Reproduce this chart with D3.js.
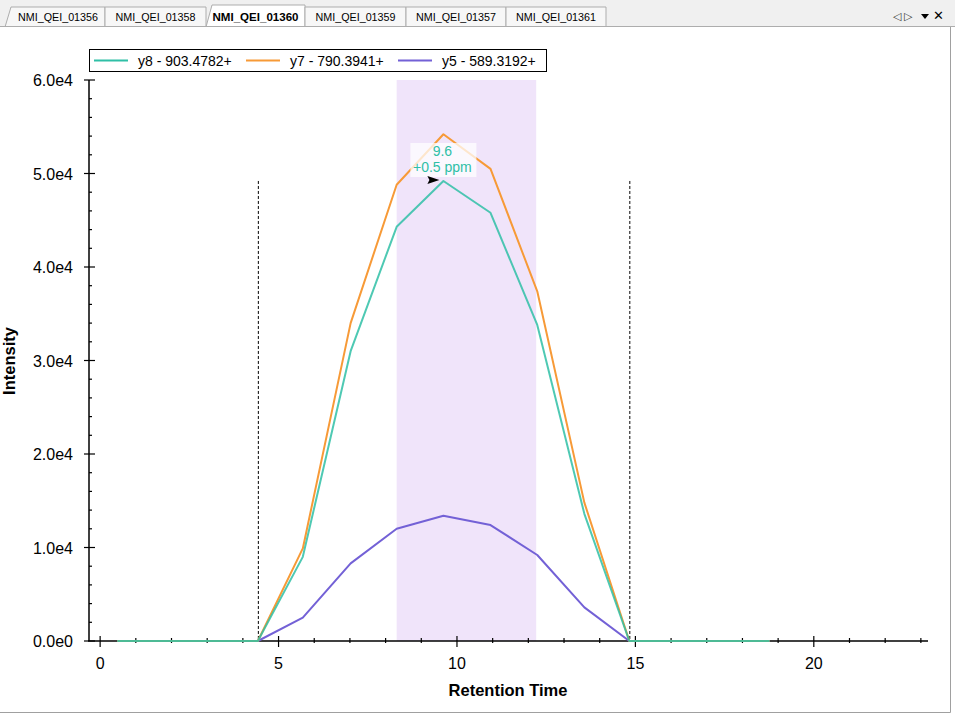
<!DOCTYPE html>
<html><head><meta charset="utf-8">
<script src="https://cdn.jsdelivr.net/npm/d3@7"></script>
<style>body{margin:0;background:#fff;}svg{display:block;font-family:"Liberation Sans",Arial,sans-serif;}</style>
</head><body><svg id="c" width="955" height="715"></svg>
<script>
const tabs = ["NMI_QEI_01356","NMI_QEI_01358","NMI_QEI_01360","NMI_QEI_01359","NMI_QEI_01357","NMI_QEI_01361"];
const activeTab = "NMI_QEI_01360";
const times = [0.48,1.79,3.10,4.42,5.68,7.02,8.31,9.62,10.94,12.25,13.57,14.83,16.14,17.45,18.76];
const seriesNames = ["y8 - 903.4782+","y7 - 790.3941+","y5 - 589.3192+"];
const seriesColors = ["#2fbfa6","#f79a37","#7361d6"];
const y8 = [0,0,0,0,9000,31000,44300,49200,45800,33800,13600,0,0,0,0];
const y7 = [0,0,0,0,9900,34000,48800,54200,50500,37400,14800,0,0,0,0];
const y5 = [0,0,0,0,2500,8300,12000,13400,12400,9200,3600,0,0,0,0];
const xTicks = [0,5,10,15,20];
const yTicks = [0,10000,20000,30000,40000,50000,60000];
const peakRange = [8.31,12.22];
const integrationBounds = [4.42,14.83];
const boundTop = 49200;
const annotation = {x:9.62, y:49200, lines:["9.6","+0.5 ppm"]};

const svg = d3.select("#c");
// Tab strip
svg.append("rect").attr("x",0).attr("y",0).attr("width",955).attr("height",27).attr("fill","#f0f0f0");
const tabW = [100,101,99,101,100,100];
let tx = 5;
tabs.forEach((t,i)=>{
  const w = tabW[i];
  const active = t===activeTab;
  const g = svg.append("g");
  g.append("path").attr("d",`M${tx},27 L${tx+ (i===0||active?6:0)},${active?5:7} L${tx+w},${active?5:7} L${tx+w},27`)
    .attr("fill",active?"#ffffff":"#f7f7f7").attr("stroke","#adadad").attr("stroke-width",1);
  g.append("text").attr("x",tx+w/2+(i===0?3:0)).attr("y",21).attr("text-anchor","middle")
    .attr("font-size",11.5).attr("font-weight",active?"bold":"normal").attr("fill","#000")
    .attr("font-family","'Liberation Sans Narrow','Liberation Sans',Arial,sans-serif")
    .attr("textLength",active?86:80).attr("lengthAdjust","spacingAndGlyphs").text(t);
  tx += w;
});
svg.append("line").attr("x1",0).attr("x2",955).attr("y1",26.5).attr("y2",26.5).attr("stroke","#adadad");
svg.append("text").attr("x",893).attr("y",20).attr("font-size",11).attr("fill","#333").text("◁ ▷");
svg.append("path").attr("d","M921,14 L929,14 L925,19 Z").attr("fill","#000");
svg.append("text").attr("x",933).attr("y",20).attr("font-size",13).attr("fill","#000").text("✕");
// panel border
svg.append("path").attr("d","M950.5,27 L950.5,712.5 L0,712.5").attr("fill","none").attr("stroke","#a0a0a0");

// scales
const x = d3.scaleLinear().domain([-0.34,23.2]).range([88,928]);
const y = d3.scaleLinear().domain([0,60000]).range([641,80]);

// shaded peak region
svg.append("rect").attr("x",x(peakRange[0])).attr("y",y(60000)).attr("width",x(peakRange[1])-x(peakRange[0]))
  .attr("height",y(0)-y(60000)).attr("fill","#f0e4fa");

// integration boundaries
integrationBounds.forEach(b=>{
  svg.append("line").attr("x1",x(b)+0.5).attr("x2",x(b)+0.5).attr("y1",y(boundTop)).attr("y2",y(0))
    .attr("stroke","#000").attr("stroke-width",1).attr("stroke-dasharray","3,2");
});

// axes
const xAxisG = svg.append("g").attr("transform",`translate(0,${y(0)})`);
xAxisG.append("line").attr("x1",88).attr("x2",928).attr("stroke","#000").attr("stroke-width",1.5);
d3.range(0,24).forEach(v=>{
  const major = xTicks.includes(v);
  xAxisG.append("line").attr("x1",x(v)).attr("x2",x(v)).attr("y1",major?-5:-3).attr("y2",major?6:2).attr("stroke","#000").attr("stroke-width",1.2);
});
xTicks.forEach(v=>{
  xAxisG.append("text").attr("x",x(v)).attr("y",28).attr("text-anchor","middle").attr("font-size",16).attr("fill","#000").text(d3.format("d")(v));
});
const yAxisG = svg.append("g").attr("transform",`translate(89,0)`);
yAxisG.append("line").attr("y1",y(0)).attr("y2",y(60000)).attr("stroke","#000").attr("stroke-width",1.5);
d3.range(0,60001,2000).forEach(v=>{
  const major = v%10000===0;
  yAxisG.append("line").attr("y1",y(v)).attr("y2",y(v)).attr("x1",major?-5:0).attr("x2",major?6:3).attr("stroke","#000").attr("stroke-width",1.2);
});
const fmtE = v => v===0 ? "0.0e0" : (v/10000).toFixed(1)+"e4";
yTicks.forEach(v=>{
  yAxisG.append("text").attr("x",-16).attr("y",y(v)+6).attr("text-anchor","end").attr("font-size",16).attr("fill","#000").text(fmtE(v));
});
svg.append("text").attr("x",508).attr("y",696).attr("text-anchor","middle").attr("font-size",16.5).attr("font-weight","bold").text("Retention Time");
svg.append("text").attr("transform","translate(15,361) rotate(-90)").attr("text-anchor","middle").attr("font-size",16.5).attr("font-weight","bold").text("Intensity");

// lines
const line = d3.line().x((d,i)=>x(times[i])).y(d=>y(d));
const data = [y8,y7,y5];
[2,1,0].forEach(k=>{
  svg.append("path").attr("d",line(data[k])).attr("fill","none").attr("stroke",seriesColors[k]).attr("stroke-width",2).attr("stroke-linejoin","round")
    .attr("stroke-opacity",k===0?0.85:1);
});

// annotation
const ax = x(annotation.x), ay = y(annotation.y);
svg.append("rect").attr("x",ax-33).attr("y",ay-38).attr("width",66).attr("height",34).attr("fill","#ffffff").attr("fill-opacity",0.75);
annotation.lines.forEach((t,i)=>{
  svg.append("text").attr("x",ax-1).attr("y",ay-25+i*16).attr("text-anchor","middle").attr("font-size",14).attr("fill",seriesColors[0]).text(t);
});
svg.append("path").attr("d",`M${ax-16},${ay-5} L${ax-4},${ay-1} L${ax-16},${ay+3} L${ax-14},${ay-1} Z`).attr("fill","#000");

// legend
const lg = svg.append("g");
lg.append("rect").attr("x",89.5).attr("y",49.5).attr("width",457).attr("height",22).attr("fill","#fff").attr("stroke","#000");
const legX = [94,246,398];
seriesNames.forEach((n,i)=>{
  lg.append("line").attr("x1",legX[i]).attr("x2",legX[i]+34).attr("y1",60.5).attr("y2",60.5).attr("stroke",seriesColors[i]).attr("stroke-width",2);
  lg.append("text").attr("x",legX[i]+44).attr("y",66).attr("font-size",14).attr("fill","#000").text(n);
});
</script></body></html>
